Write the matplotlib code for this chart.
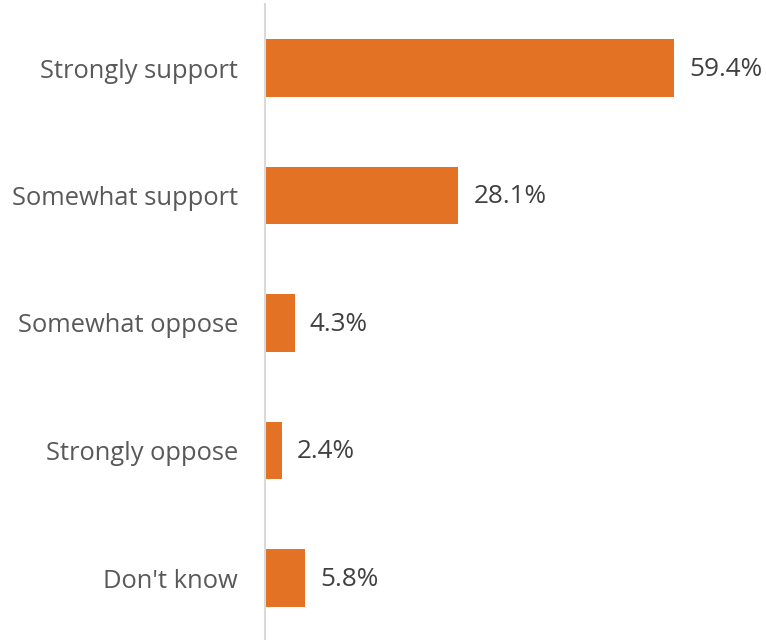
import matplotlib
matplotlib.use('Agg')
import matplotlib.pyplot as plt

# Survey responses, top to bottom
categories = ['Strongly support', 'Somewhat support', 'Somewhat oppose',
              'Strongly oppose', "Don't know"]
shares = [59.4, 28.1, 4.3, 2.4, 5.8]
value_labels = ['59.4%', '28.1%', '4.3%', '2.4%', '5.8%']

plt.rcParams['font.family'] = ['Open Sans', 'DejaVu Sans']

fig = plt.figure(figsize=(7.66, 6.4), dpi=100)
ax = fig.add_axes([265 / 766, -1.75 / 640, 1 - 265 / 766, 637.5 / 640])

pos = list(range(len(categories)))
ax.barh(pos, shares, height=0.45, color='#e37224')

for y, v, lab in zip(pos, shares, value_labels):
    ax.text(v + 2.2, y + 0.01, lab, va='center', ha='left', fontsize=18.8, color='#404040')

ax.set_xlim(0, 72.8)
ax.set_ylim(len(categories) - 0.5, -0.5)
ax.set_yticks(pos)
ax.set_yticklabels(categories, fontsize=18.4, color='#595959')
ax.tick_params(axis='y', length=0, pad=19.5)
ax.set_xticks([])

for side in ['top', 'right', 'bottom']:
    ax.spines[side].set_visible(False)
ax.spines['left'].set_color('#d9d9d9')
ax.spines['left'].set_linewidth(1.5)

fig.savefig('out.png', dpi=100)
